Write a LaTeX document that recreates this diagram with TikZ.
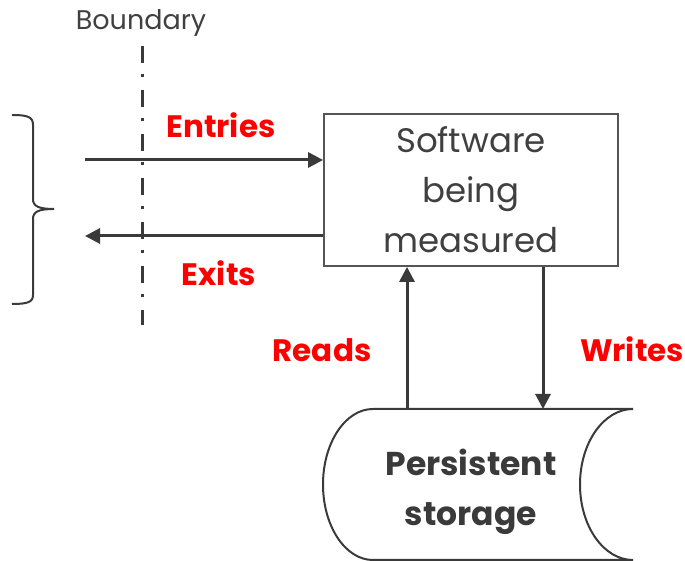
\documentclass[tikz,border=0pt]{standalone}
\usepackage{fontspec}
\setmainfont{Poppins}
\usetikzlibrary{arrows.meta}
\definecolor{ink}{HTML}{3A3A3A}
\definecolor{txt}{HTML}{404040}
\definecolor{boxline}{HTML}{555555}
\definecolor{lblred}{HTML}{FF0000}
\tikzset{
  arr/.style={draw=ink, line width=3pt, -{Triangle[length=15pt,width=15pt]}},
  lbl/.style={text=lblred, font=\bfseries\fontsize{31}{31}\selectfont, inner sep=0pt, anchor=base},
  boxnode/.style={draw=boxline, line width=1.8pt, minimum width=294pt, minimum height=152pt, inner sep=0pt, align=center, text=txt, font=\fontsize{34}{50}\selectfont},
}
\begin{document}
\begin{tikzpicture}[x=1pt,y=1pt]
\useasboundingbox (0,0) rectangle (685,561);
% software box
\node[boxnode] (box) at (471,371) {Software\\being\\measured};
% boundary
\node[text=txt, font=\fontsize{27}{27}\selectfont, inner sep=0pt, anchor=base] (bnd) at (141,531) {Boundary};
\coordinate (btop) at (142,515);
\coordinate (bbot) at (142,236);
\draw[ink, line width=3pt, dash pattern=on 17pt off 11pt on 3pt off 13pt] (btop) -- (bbot);
% brace
\coordinate (brtip) at (54,352);
\draw[ink, line width=2pt] (12,446) .. controls (28,446) and (33,444) .. (33,436) -- (33,362) .. controls (33,355) and (38,352) .. (brtip)
  .. controls (38,352) and (33,349) .. (33,342) -- (33,266) .. controls (33,259) and (28,257) .. (12,257);
% entries / exits
\coordinate (ein) at (85,401);
\coordinate (eout) at (85,325);
\draw[arr] (ein) -- (ein -| box.west);
\draw[arr] (eout -| box.west) -- (eout);
\node[lbl] (entries) at (221,423) {Entries};
\node[lbl] (exits) at (219,275) {Exits};
% storage
\draw[ink, line width=2pt] (373,152) -- (633,152) arc[start angle=90, end angle=270, x radius=53pt, y radius=75.5pt] -- (373,1) arc[start angle=270, end angle=90, x radius=50pt, y radius=75.5pt] -- cycle;
\node[text=ink, font=\bfseries\fontsize{33}{50}\selectfont, align=center, inner sep=0pt] (store) at (471,69) {Persistent\\storage};
% reads / writes
\coordinate (rd) at (407,152);
\coordinate (wr) at (543,152);
\draw[arr] (rd) -- (rd |- box.south);
\draw[arr] (wr |- box.south) -- (wr);
\node[lbl] (reads) at (322,199) {Reads};
\node[lbl] (writes) at (632,199) {Writes};
\end{tikzpicture}
\end{document}
